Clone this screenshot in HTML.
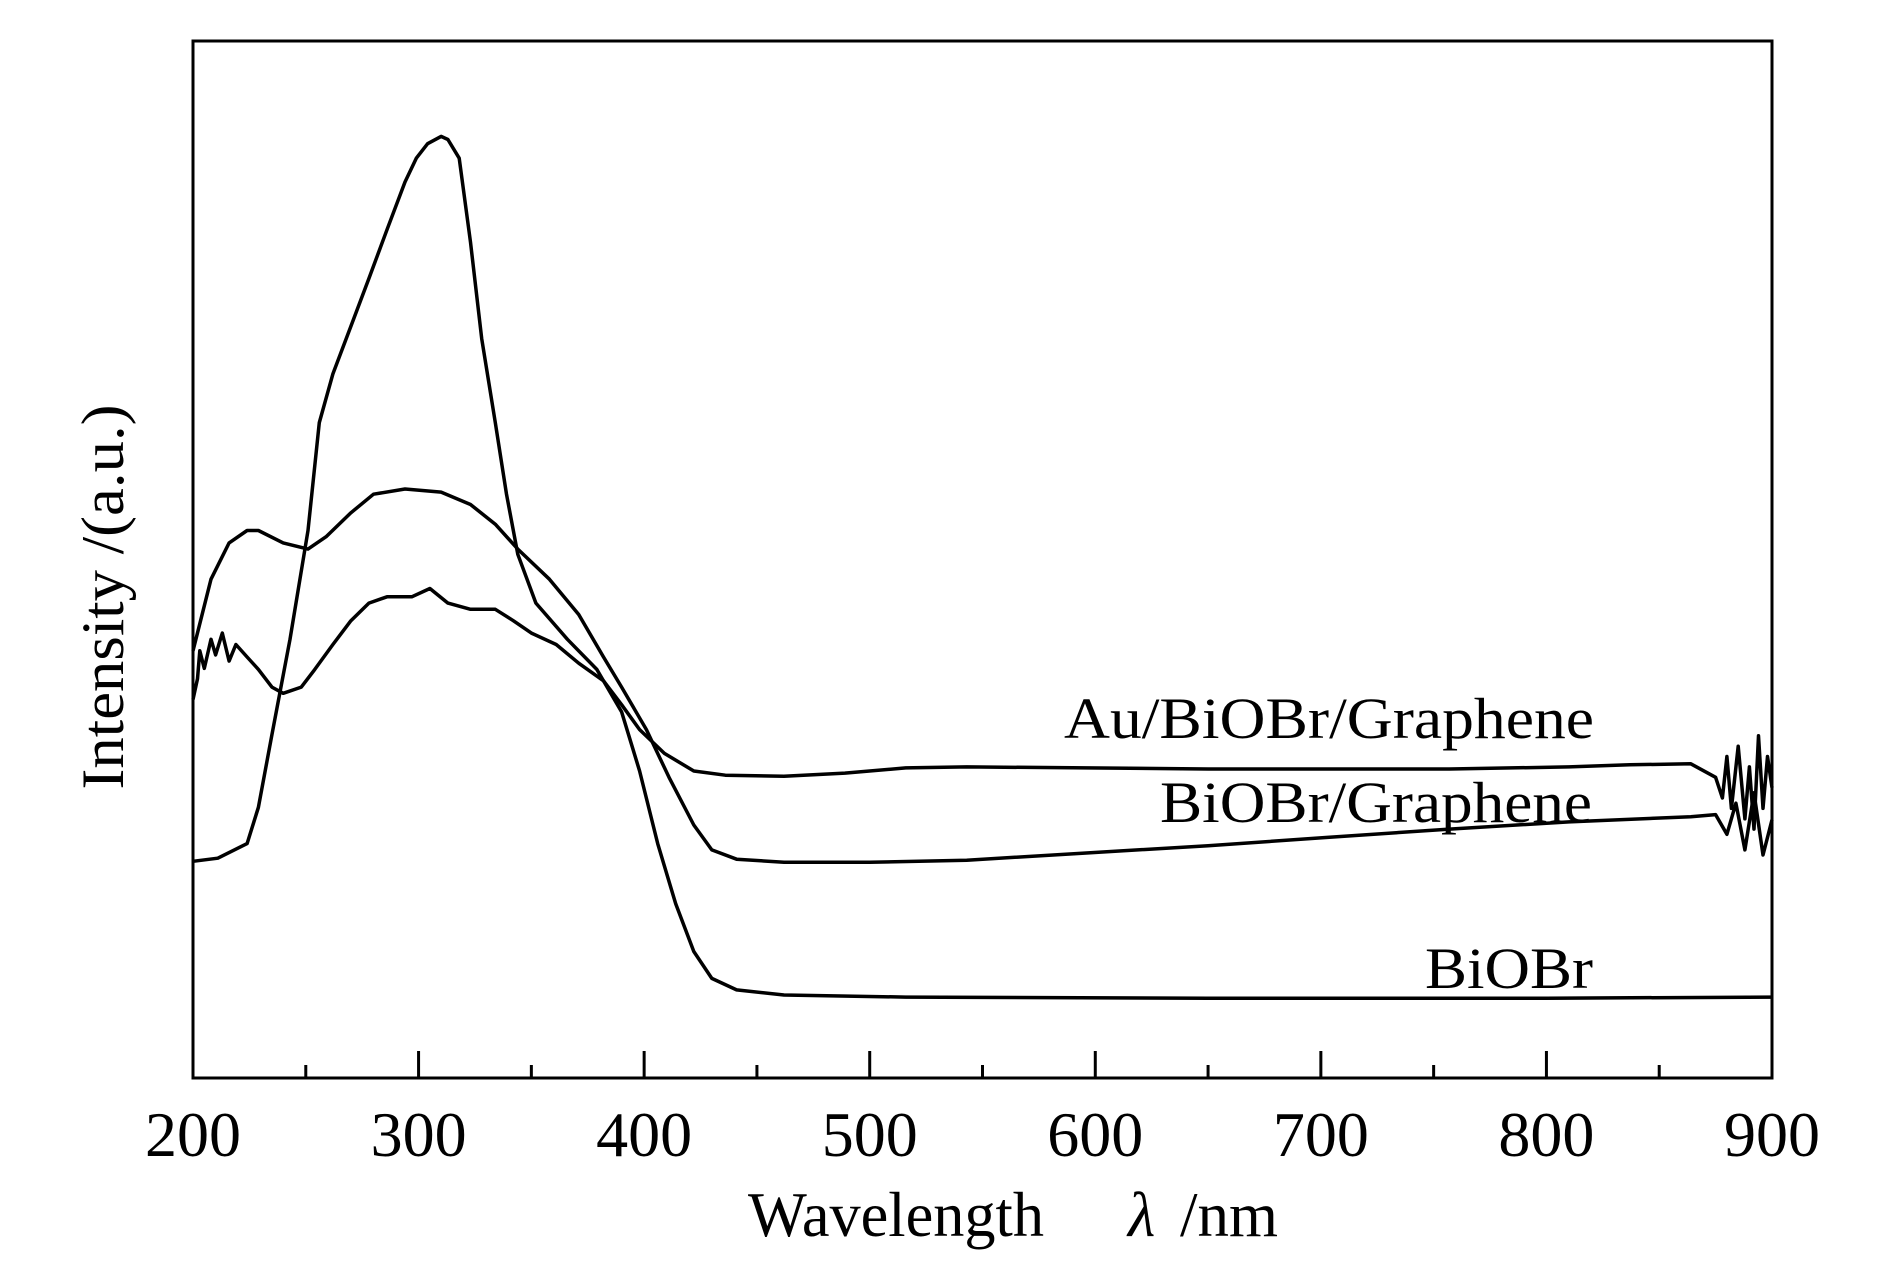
<!DOCTYPE html>
<html><head><meta charset="utf-8"><style>html,body{margin:0;padding:0;background:#fff}svg{display:block}</style></head>
<body>
<svg id="chart" width="1890" height="1276" viewBox="0 0 1890 1276" xmlns="http://www.w3.org/2000/svg" font-family="'Liberation Serif', serif">
<rect x="0" y="0" width="1890" height="1276" fill="#fff"/>
<g id="plot"></g>
</svg>
<script>
const xTicks = [200,300,400,500,600,700,800,900];
const minorTicks = [250,350,450,550,650,750,850];
const biobrWl = [200,211,224,229,235,243,251,256,262,270,278,286,294,299,304,310,313,318,323,328,334,339,344,352,366,379,390,398,406,414,422,430,441,462,516,650,800,900];
const biobrI = [20.9,21.2,22.6,26.1,33.1,42.3,52.8,63.2,67.9,72.5,77.1,81.8,86.4,88.7,90.1,90.8,90.5,88.7,80.6,71.3,63.2,56.3,50.5,45.8,42.3,39.4,35.3,29.6,22.6,16.8,12.2,9.6,8.5,8.0,7.8,7.7,7.7,7.8];
const bgWl = [200,208,216,224,229,240,251,259,270,280,294,310,323,334,344,358,371,382,390,401,411,422,430,441,462,500,543,596,650,703,757,810,864,875,880,884,888,892,896,900];
const bgI = [41.2,48.1,51.6,52.8,52.8,51.6,51.0,52.2,54.5,56.3,56.8,56.5,55.3,53.4,51.0,48.1,44.7,40.6,37.7,33.6,29.0,24.4,22.0,21.1,20.8,20.8,21.0,21.7,22.4,23.2,24.0,24.7,25.2,25.4,23.5,26.5,22.0,27.5,21.5,24.9];
const abgWl = [200,202,203,205,208,210,213,216,219,224,229,235,240,248,254,262,270,278,286,297,305,313,323,334,342,350,361,371,382,390,398,409,422,436,462,489,516,543,596,650,703,757,810,837,864,875,878,880,882,885,888,890,892,894,896,898,900];
const abgI = [36.5,38.5,41.2,39.5,42.3,40.8,42.9,40.2,41.8,40.6,39.4,37.7,37.1,37.7,39.4,41.8,44.1,45.8,46.4,46.4,47.2,45.8,45.2,45.2,44.1,42.9,41.8,40.0,38.3,36.0,33.6,31.3,29.6,29.2,29.1,29.4,29.9,30.0,29.9,29.8,29.8,29.8,30.0,30.2,30.3,29.0,27.0,31.0,26.0,32.0,25.0,30.0,24.0,33.0,26.0,31.0,28.0];

const X0=193, X1=1772, Y0=1078, Y1=41;
function sx(w){return X0+(w-200)/(900-200)*(X1-X0);}
function sy(v){return Y0-v/100*(Y0-Y1);}
const NS="http://www.w3.org/2000/svg";
const g=document.getElementById('plot');
function mk(tag,attrs){const e=document.createElementNS(NS,tag);for(const k in attrs)e.setAttribute(k,attrs[k]);g.appendChild(e);return e;}

function series(wl,iv,name){
  let d='';
  for(let i=0;i<wl.length;i++){d+=(i?'L':'M')+sx(wl[i]).toFixed(1)+' '+sy(iv[i]).toFixed(1);}
  const p=mk('path',{d:d,fill:'none',stroke:'#000','stroke-width':3.5,'stroke-linejoin':'round'});
  
  
}
series(biobrWl,biobrI,'series-biobr');
series(bgWl,bgI,'series-biobr-graphene');
series(abgWl,abgI,'series-au-biobr-graphene');

const frame=mk('rect',{x:X0,y:Y1,width:X1-X0,height:Y0-Y1,fill:'none',stroke:'#000','stroke-width':3});



xTicks.forEach(t=>{
  const l=mk('line',{x1:sx(t),x2:sx(t),y1:Y0,y2:Y0-27,stroke:'#000','stroke-width':3});
  
  
  const tx=mk('text',{x:sx(t),y:1156,'text-anchor':'middle','font-size':64});
  tx.textContent=t;
  
  
});
minorTicks.forEach(t=>{
  const l=mk('line',{x1:sx(t),x2:sx(t),y1:Y0,y2:Y0-13,stroke:'#000','stroke-width':3});
  
  
});

function label(txt,x,y,len,name){
  const t=mk('text',{x:x,y:y,'font-size':58,textLength:len,lengthAdjust:'spacingAndGlyphs'});
  t.textContent=txt;
  
  
  return t;
}
label('Au/BiOBr/Graphene',1064,738,530,'label-au-biobr-graphene');
label('BiOBr/Graphene',1160,822,432,'label-biobr-graphene');
label('BiOBr',1425,988,168,'label-biobr');

const xt=mk('text',{x:748,y:1236,'font-size':63});
xt.innerHTML='<tspan textLength="296" lengthAdjust="spacingAndGlyphs">Wavelength</tspan><tspan x="1128" font-style="italic">λ</tspan><tspan x="1180">/nm</tspan>';



const yt=mk('text',{x:0,y:0,'font-size':60,'text-anchor':'middle',transform:'translate(123,597) rotate(-90)',textLength:385,lengthAdjust:'spacingAndGlyphs'});
yt.textContent='Intensity /(a.u.)';


</script>
</body></html>
